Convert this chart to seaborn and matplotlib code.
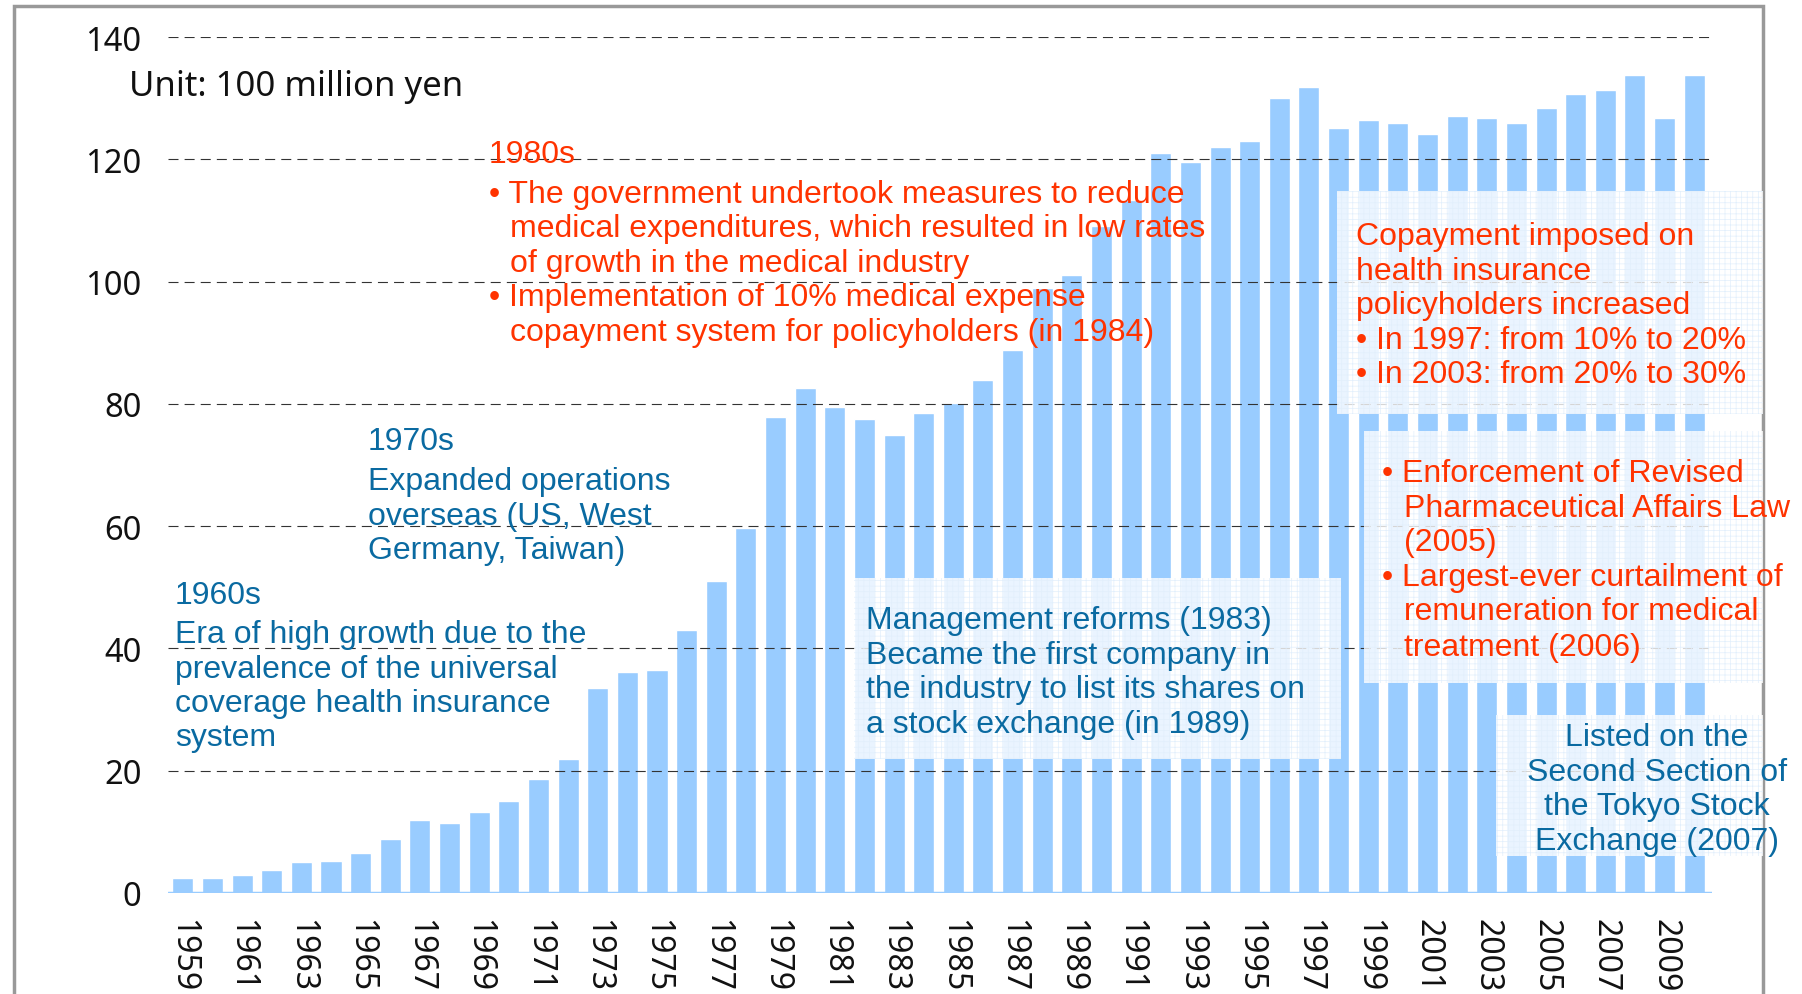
import matplotlib
matplotlib.use("Agg")
import matplotlib.pyplot as plt
import matplotlib.patches as mpatches
import pandas as pd
import seaborn as sns

# sales by fiscal year, unit: 100 million yen
years = list(range(1959, 2011))
sales = [2.5, 2.5, 3.0, 3.7, 5.0, 5.3, 6.6, 8.9, 11.9, 11.5, 13.2, 15.1, 18.6, 21.9,
         33.5, 36.2, 36.5, 43.0, 51.0, 59.7,
         77.9, 82.6, 79.5, 77.5, 74.9, 78.5, 80.1, 83.9, 88.8,
         98.9, 101.1, 109.1, 113.3, 121.0, 119.6, 122.0, 123.0, 130.0, 131.8,
         125.1, 126.4, 126.0, 124.1, 127.1, 126.8, 126.0, 128.4, 130.7, 131.4, 133.8,
         126.8, 133.8]
y_ticks = [0, 20, 40, 60, 80, 100, 120, 140]
x_labels = [str(y) for y in years[::2]]

df = pd.DataFrame({"year": [str(y) for y in years], "sales": sales})

BAR = "#99CCFF"
RED = "#FF3300"
BLUE = "#0A6AA1"
W, H = 1802, 995
FS = 23

sns.set_style("white")
plt.rcParams["font.family"] = ["Liberation Sans", "DejaVu Sans"]
plt.rcParams["hatch.linewidth"] = 0.5

fig = plt.figure(figsize=(W / 100, H / 100), dpi=100)
ax = fig.add_axes([168 / W, 1 - 894 / H, (1712 - 168) / W, (894 - 38) / H])

sns.barplot(data=df, x="year", y="sales", color=BAR, saturation=1, width=0.71, ax=ax)

ax.set_xlim(-0.5, 51.6)
ax.set_ylim(0, 140)
ax.set_yticks(y_ticks)
ax.set_xticks(range(0, len(years), 2))
ax.set_xticklabels(x_labels, rotation=270, family="Noto Sans", fontsize=23, color="#111111")
ax.set_yticklabels([str(t) for t in y_ticks], family="Noto Sans", fontsize=23.5, color="#111111")
ax.tick_params(axis="x", length=0, pad=18)
ax.tick_params(axis="y", length=0, pad=19)
ax.set_xlabel("")
ax.set_ylabel("")
for s in ax.spines.values():
    s.set_visible(False)
ax.set_axisbelow(False)
ax.yaxis.grid(True, linestyle=(0, (9, 5.5)), color="#333333", linewidth=0.8)
ax.axhline(0, color=BAR, lw=2.5, zorder=3)

# outer frame
fig.add_artist(mpatches.Rectangle((14 / W, -0.1), (1763 - 14) / W, 1.1 - 7 / H,
                                  transform=fig.transFigure, fill=False,
                                  edgecolor="#999999", lw=2.5))


def px(x, y):
    return x / W, 1 - y / H


def box(x0, y0, x1, y1):
    fig.add_artist(mpatches.Rectangle(px(x0, y1), (x1 - x0) / W, (y1 - y0) / H,
                                      transform=fig.transFigure, facecolor=(1, 1, 1, 0.8),
                                      edgecolor="#E2EFFC", hatch="+++", lw=0, zorder=3))


def lines(x, ys, texts, color, ha="left"):
    for y, t in zip(ys, texts):
        fig.text(*px(x, y + 3), t, color=color, fontsize=FS, ha=ha, va="center", zorder=4)


box(854, 579, 1341, 760)
box(1337, 192, 1763, 415)
box(1364, 432, 1763, 684)
box(1496, 716, 1763, 857)

fig.text(*px(129, 87), "Unit: 100 million yen", fontsize=25, color="#111111",
         va="center", family="Noto Sans")

lines(489, [152], ["1980s"], RED)
lines(489, [192, 295], ["• The government undertook measures to reduce",
                        "• Implementation of 10% medical expense"], RED)
lines(510, [226, 261, 330], ["medical expenditures, which resulted in low rates",
                             "of growth in the medical industry",
                             "copayment system for policyholders (in 1984)"], RED)

lines(368, [439, 479, 514, 548], ["1970s", "Expanded operations",
                                  "overseas (US, West", "Germany, Taiwan)"], BLUE)
lines(175, [593, 632, 667, 701, 735], ["1960s", "Era of high growth due to the",
                                       "prevalence of the universal",
                                       "coverage health insurance", "system"], BLUE)
lines(866, [618, 653, 687, 722], ["Management reforms (1983)",
                                  "Became the first company in",
                                  "the industry to list its shares on",
                                  "a stock exchange (in 1989)"], BLUE)
lines(1356, [234, 269, 303, 338, 372], ["Copayment imposed on", "health insurance",
                                        "policyholders increased",
                                        "• In 1997: from 10% to 20%",
                                        "• In 2003: from 20% to 30%"], RED)
lines(1382, [471, 575], ["• Enforcement of Revised", "• Largest-ever curtailment of"], RED)
lines(1404, [506, 540, 609, 645], ["Pharmaceutical Affairs Law", "(2005)",
                                   "remuneration for medical", "treatment (2006)"], RED)
lines(1657, [735, 770, 804, 839], ["Listed on the", "Second Section of",
                                   "the Tokyo Stock", "Exchange (2007)"], BLUE, ha="center")

fig.savefig("out.png", dpi=100)
